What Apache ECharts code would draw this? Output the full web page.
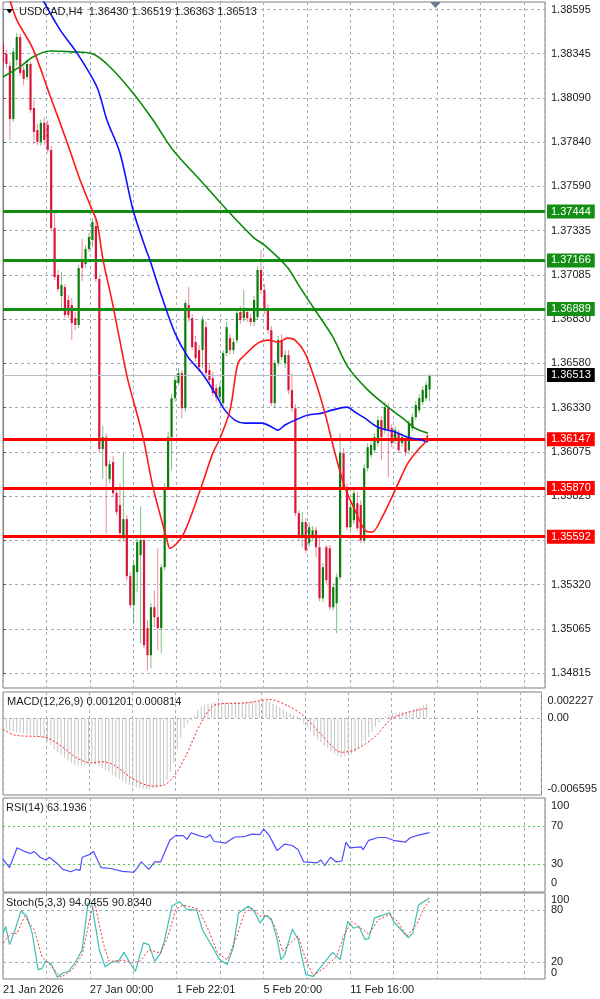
<!DOCTYPE html>
<html><head><meta charset="utf-8">
<script src="https://cdn.jsdelivr.net/npm/echarts@6/dist/echarts.min.js"></script>
<style>html,body{margin:0;padding:0;background:#fff}#c{width:600px;height:999px}</style>
</head><body><div id="c"></div>
<script>
// ---------------- DATA ----------------
const symbolName = 'USDCAD,H4';
const headerOHLC = ['1.36430', '1.36519', '1.36363', '1.36513'];

const opens = [1.38393,1.38342,1.38274,1.37972,1.38308,1.38439,1.38251,1.38211,1.38285,1.38034,
1.37909,1.37841,1.37949,1.37938,1.37795,1.37350,1.37083,1.36963,1.37014,1.36940,
1.36912,1.36837,1.36798,1.37168,1.37145,1.37231,1.37282,1.37362,1.37060,1.36091,
1.36159,1.35920,1.36017,1.35840,1.35772,1.35583,1.35692,1.35367,1.35202,1.35390,
1.35487,1.35572,1.35071,1.34917,1.35190,1.35133,1.35071,1.35418,1.35874,1.36159,
1.36381,1.36467,1.36524,1.36324,1.36912,1.36837,1.36701,1.36655,1.36655,1.36786,
1.36541,1.36495,1.36438,1.36387,1.36353,1.36638,1.36723,1.36655,1.36712,1.36872,
1.36837,1.36872,1.36837,1.36815,1.36843,1.37111,1.36997,1.36883,1.36769,1.36353,
1.36581,1.36712,1.36581,1.36627,1.36427,1.36324,1.35726,1.35589,1.35675,1.35555,
1.35589,1.35629,1.35532,1.35241,1.35532,1.35526,1.35190,1.35213,1.35361,1.36068,
1.35874,1.35646,1.35686,1.35783,1.35772,1.35572,1.35982,1.36057,1.36085,1.36125,
1.36256,1.36199,1.36324,1.36210,1.36142,1.36182,1.36125,1.36142,1.36085,1.36210,
1.36273,1.36313,1.36359,1.36381,1.36430];

const closes = [1.38297,1.38285,1.37972,1.38354,1.38439,1.38234,1.38200,1.38285,1.38023,1.37898,
1.37841,1.37949,1.37852,1.37795,1.37350,1.37071,1.37003,1.37026,1.36855,1.36855,
1.36809,1.36798,1.37122,1.37122,1.37231,1.37299,1.37385,1.37060,1.36091,1.36159,
1.35994,1.36005,1.35840,1.35732,1.35612,1.35692,1.35367,1.35202,1.35430,1.35561,
1.35572,1.34974,1.34917,1.35190,1.35133,1.35071,1.35418,1.35874,1.36159,1.36381,
1.36484,1.36524,1.36324,1.36923,1.36837,1.36672,1.36609,1.36558,1.36826,1.36524,
1.36484,1.36410,1.36387,1.36444,1.36638,1.36786,1.36655,1.36701,1.36866,1.36826,
1.36883,1.36837,1.36815,1.36940,1.37111,1.36997,1.36883,1.36769,1.36353,1.36581,
1.36712,1.36615,1.36627,1.36427,1.36324,1.35726,1.35589,1.35675,1.35515,1.35646,
1.35629,1.35532,1.35241,1.35418,1.35344,1.35190,1.35304,1.35361,1.36068,1.35874,
1.35646,1.35760,1.35840,1.35640,1.35572,1.35982,1.36102,1.36114,1.36159,1.36256,
1.36159,1.36330,1.36199,1.36125,1.36199,1.36085,1.36159,1.36074,1.36239,1.36273,
1.36342,1.36381,1.36427,1.36456,1.36513];

const highs = [1.38416,1.38365,1.38297,1.38376,1.38462,1.38456,1.38274,1.38308,1.38297,1.38080,
1.37943,1.37966,1.37983,1.37966,1.37818,1.37447,1.37111,1.37100,1.37031,1.36969,
1.36951,1.36872,1.37140,1.37288,1.37254,1.37322,1.37407,1.37407,1.37077,1.36222,
1.36182,1.36028,1.36051,1.35857,1.35897,1.36068,1.35715,1.35390,1.35447,1.35583,
1.35766,1.35595,1.35116,1.35213,1.35287,1.35526,1.35435,1.35897,1.36188,1.36404,
1.36507,1.36552,1.36541,1.36940,1.37014,1.36860,1.36735,1.36684,1.36849,1.36815,
1.36575,1.36530,1.36461,1.36467,1.36655,1.36815,1.36746,1.36723,1.36894,1.36906,
1.36997,1.36894,1.36860,1.36963,1.37134,1.37225,1.37031,1.36917,1.36792,1.36598,
1.36735,1.36746,1.36655,1.36655,1.36524,1.36347,1.35743,1.35732,1.35697,1.35675,
1.35652,1.35646,1.35601,1.35441,1.35544,1.35544,1.35327,1.35384,1.36182,1.36096,
1.35897,1.35783,1.35868,1.35846,1.35800,1.36005,1.36125,1.36136,1.36182,1.36279,
1.36279,1.36359,1.36353,1.36233,1.36222,1.36199,1.36182,1.36165,1.36256,1.36296,
1.36364,1.36404,1.36450,1.36478,1.36519];

const lows = [1.38274,1.38262,1.37852,1.37955,1.38274,1.38217,1.38166,1.38194,1.38006,1.37829,
1.37824,1.37818,1.37824,1.37778,1.37333,1.37054,1.36986,1.36883,1.36837,1.36837,
1.36712,1.36769,1.36780,1.37048,1.37122,1.37214,1.37242,1.37043,1.36074,1.35920,
1.35612,1.35897,1.35823,1.35715,1.35561,1.35566,1.35344,1.35184,1.35093,1.35276,
1.34985,1.34956,1.34831,1.34842,1.35076,1.34945,1.34928,1.35401,1.35857,1.35971,
1.36359,1.36450,1.36267,1.36302,1.36815,1.36655,1.36587,1.36530,1.36552,1.36507,
1.36461,1.36393,1.36359,1.36370,1.36336,1.36621,1.36632,1.36632,1.36695,1.36803,
1.36815,1.36815,1.36792,1.36792,1.36826,1.36974,1.36860,1.36746,1.36336,1.36324,
1.36564,1.36598,1.36552,1.36404,1.36302,1.35709,1.35572,1.35532,1.35498,1.35532,
1.35566,1.35475,1.35224,1.35219,1.35321,1.35173,1.35173,1.35042,1.35344,1.35857,
1.35629,1.35629,1.35663,1.35623,1.35555,1.35555,1.35965,1.36039,1.36068,1.36108,
1.36028,1.36176,1.35931,1.36102,1.36119,1.36068,1.36102,1.36051,1.36062,1.36193,
1.36256,1.36296,1.36342,1.36364,1.36363];

const xLabels = ['21 Jan 2026', '27 Jan 00:00', '1 Feb 22:01', '5 Feb 20:00', '11 Feb 16:00'];
const priceTickLabels = ['1.38595','1.38345','1.38090','1.37840','1.37590','1.37335','1.37085','1.36830',
  '1.36580','1.36330','1.36075','1.35825','1.35575','1.35320','1.35065','1.34815'];
const resistanceLevels = [1.37444, 1.37166, 1.36889];
const supportLevels = [1.36147, 1.35870, 1.35592];
const lastPrice = 1.36513;

// moving averages: [bar index, price]
const maFast = [[2.0,1.38650],[4.0,1.38536],[8.7,1.38371],[13.7,1.38103],[18.6,1.37841],[22.4,1.37624],
  [25.3,1.37482],[27.3,1.37385],[29.1,1.37168],[32.0,1.36906],[34.9,1.36615],[36.3,1.36484],[40.7,1.36159],
  [43.6,1.35874],[47.7,1.35572],[48.5,1.35526],[52.3,1.35601],[57.3,1.35857],[61.0,1.36068],[63.1,1.36153],
  [66.0,1.36313],[68.3,1.36581],[70.3,1.36627],[74.1,1.36695],[77.0,1.36712],[79.9,1.36701],[82.8,1.36723],
  [84.9,1.36712],[87.8,1.36638],[90.7,1.36484],[93.6,1.36296],[96.5,1.36068],[99.4,1.35874],[102.3,1.35743],
  [105.2,1.35629],[107.3,1.35618],[110.2,1.35703],[114.0,1.35857],[117.7,1.36011],[120.6,1.36085],
  [122.7,1.36131],[123.5,1.36171]];
const maMid = [[11.6,1.38650],[16.6,1.38479],[21.5,1.38348],[27.3,1.38154],[30.2,1.37966],[34.0,1.37778],
  [37.8,1.37453],[41.3,1.37242],[42.7,1.37168],[46.2,1.36957],[50.0,1.36752],[53.8,1.36615],[57.8,1.36524],
  [61.6,1.36410],[64.5,1.36313],[67.4,1.36256],[70.3,1.36239],[75.3,1.36239],[78.2,1.36216],[79.9,1.36199],
  [82.0,1.36228],[84.9,1.36256],[88.7,1.36285],[92.7,1.36296],[95.6,1.36313],[100.0,1.36330],[102.3,1.36302],
  [105.2,1.36267],[109.0,1.36216],[114.0,1.36188],[117.7,1.36159],[121.8,1.36142],[123.5,1.36131]];
const maSlow = [[0,1.38211],[4.9,1.38268],[8.7,1.38325],[13.7,1.38359],[20.3,1.38354],[26.2,1.38342],
  [31.1,1.38268],[37.8,1.38120],[43.6,1.37966],[49.4,1.37795],[57.3,1.37624],[65.1,1.37453],[72.7,1.37299],
  [76.7,1.37242],[82.6,1.37128],[86.3,1.37014],[91.3,1.36866],[95.9,1.36729],[100.3,1.36558],[106.1,1.36427],
  [111.9,1.36330],[116.9,1.36256],[119.8,1.36210],[123.5,1.36182]];

const macdTitle = 'MACD(12,26,9) 0.001201 0.000814';
const macdMain = [-0.00096,-0.00102,-0.00110,-0.00116,-0.00122,-0.00127,-0.00133,-0.00139,-0.00144,-0.00153,
-0.00158,-0.00164,-0.00173,-0.00195,-0.00232,-0.00266,-0.00294,-0.00314,-0.00337,-0.00362,
-0.00385,-0.00405,-0.00410,-0.00413,-0.00408,-0.00396,-0.00393,-0.00402,-0.00413,-0.00430,
-0.00447,-0.00464,-0.00484,-0.00504,-0.00524,-0.00541,-0.00558,-0.00574,-0.00589,-0.00597,
-0.00603,-0.00606,-0.00608,-0.00606,-0.00603,-0.00597,-0.00586,-0.00563,-0.00532,-0.00464,
-0.00385,-0.00266,-0.00167,-0.00091,-0.00045,-0.00017,0.00017,0.00068,0.00096,0.00113,
0.00125,0.00130,0.00136,0.00136,0.00136,0.00133,0.00133,0.00130,0.00130,0.00133,
0.00133,0.00136,0.00139,0.00142,0.00144,0.00147,0.00150,0.00144,0.00136,0.00122,
0.00108,0.00091,0.00074,0.00057,0.00040,0.00025,0.00011,-0.00017,-0.00045,-0.00085,
-0.00119,-0.00153,-0.00181,-0.00209,-0.00238,-0.00260,-0.00283,-0.00306,-0.00323,-0.00334,
-0.00331,-0.00323,-0.00311,-0.00289,-0.00266,-0.00238,-0.00204,-0.00164,-0.00119,-0.00074,
-0.00040,-0.00011,0.00011,0.00028,0.00040,0.00045,0.00048,0.00051,0.00057,0.00062,
0.00074,0.00085,0.00096,0.00108,0.001201];
const macdSignal = [[0,-0.00096],[3.5,-0.00147],[12.4,-0.00167],[16.9,-0.00238],[21.3,-0.00337],
  [25.8,-0.00385],[29.1,-0.00374],[32.4,-0.00402],[38.0,-0.00521],[43.5,-0.00583],[46.9,-0.00577],
  [50.2,-0.00492],[53.5,-0.00323],[58.0,-0.00040],[62.4,0.00116],[71.3,0.00130],[78.0,0.00158],
  [83.5,0.00102],[88.0,0.00017],[93.5,-0.00153],[99.1,-0.00294],[103.5,-0.00266],[109.1,-0.00153],
  [113.5,-0.00011],[118.0,0.00045],[122.4,0.00074],[124,0.000814]];
const macdLabelValues = [0.002227, 0, -0.006595];
const macdLabels = ['0.002227', '0.00', '-0.006595'];

const rsiTitle = 'RSI(14) 63.1936';
const rsiLine = [[0,35],[1.9,26],[4.1,47],[6.3,43],[8,41],[9.1,43],[10.8,37],[12.4,34],[13.5,37],[15.8,30],
  [17.4,24],[19.7,21.5],[21.3,24],[22.4,23],[23,37],[25.2,40],[26.3,43],[28.5,26],[31.3,25],[34.7,22],[38,21],
  [39.1,26],[40.2,32],[42.4,24],[44.1,32],[45.8,32],[48.5,55],[50.2,60],[52.4,60],[53.5,56],[54.7,63],
  [56.9,60],[59.1,58],[60.2,61],[61.3,54],[64.7,52],[67.4,58.5],[70.2,59],[72.4,61.5],[74.7,61],[75.8,67],
  [77.4,60],[79.7,44],[81.9,51],[84.1,49.5],[85.8,45],[87.4,32],[91.3,31],[92.4,34],[93.5,28],[95.2,37],
  [96.9,32],[98.5,33],[99.7,53],[100.8,47],[104.1,48],[104.7,45],[106.3,55],[109.1,58],[111.3,58],
  [113.5,55],[116.9,53],[118.5,58],[121.3,61],[124,63.19]];
const rsiLevels = [70, 30];
const rsiLabelValues = [100, 70, 30, 0];

const stochTitle = 'Stoch(5,3,3) 94.0455 90.8340';
const stochK = [[0,53],[0.8,61],[1.9,40],[3.5,57],[5.2,79],[6.9,73],[8.5,53],[10.2,11],[11.3,12],[12.4,21],
  [14.1,17],[15.8,2],[17.4,7],[19.1,9],[21.3,21],[23.0,34],[24.7,88],[25.8,88],[28.0,34],[29.7,14],[31.3,19],
  [33.5,20.5],[35.2,31],[36.9,18.6],[38.5,9],[40.8,42],[42.4,40],[44.1,20.5],[45.8,30],[46.9,44],[49.1,84.5],
  [51.3,90],[53.5,81],[56.3,80],[58.0,57],[60.2,42],[63.0,22.5],[65.2,17],[66.9,36],[68.5,77],[71.3,84.5],
  [73.0,79],[74.7,65],[76.3,74],[78.0,70],[79.7,46],[80.8,22.5],[81.9,28],[84.1,58],[85.8,46],[88.0,5],
  [90.2,3],[93.0,17],[95.8,31],[98.0,22.5],[100.2,67],[101.9,59],[103.5,61],[105.2,46],[106.3,47],[108.0,71],
  [110.2,74],[112.4,77],[113.5,67],[115.8,57],[117.8,48],[119.1,53],[120.8,86],[124,94.05]];
const stochD = [[0,42],[2.4,53],[4.1,53],[6.3,73],[9.1,57],[11.3,26],[13.5,17],[16.9,2],[20.2,11],[23.0,28],
  [25.8,81],[26.9,84.5],[29.1,42],[30.8,20.5],[34.7,22],[37.4,19],[39.7,20],[42.4,34],[45.8,30],[48.0,50],
  [50.2,81],[52.4,86],[56.9,81],[59.7,57],[62.4,30],[65.2,22.5],[68.0,50],[70.2,77],[72.4,82.5],[74.7,73],
  [76.9,74],[79.1,61],[81.3,32],[83.5,42],[85.8,50],[88.0,22.5],[90.2,4],[93.5,13],[96.9,26],[99.1,50],
  [101.3,67],[104.1,59],[106.3,52],[109.1,69],[112.4,75],[114.7,67],[117.4,50],[120.2,63],[122.4,82.5],[124,90.83]];
const stochLevels = [80, 20];
const stochLabelValues = [80, 20, 0];
const stochTopLabelValues = [100];

// ---------------- LAYOUT / STYLE ----------------
const FONT = "'Liberation Sans', Arial, sans-serif";
const TXT = '#1a1a1a';
const GRID_LEFT = 3, GRID_W = 542;
const BAR_PX = 3.44;
const X_MAX = GRID_W / BAR_PX;
const X_STEP = 43.4 / BAR_PX;
const GRID_DASH = { color: '#a3acb9', type: [3, 3], width: 1 };
const BORDER = '#808080';
const PRICE_MIN = 1.34730, PRICE_MAX = 1.38638;
const GREEN_LVL = '#138f13', RED_LVL = '#ff0000';

const candles = opens.map((o, i) => [i, o, closes[i], lows[i], highs[i]]);
const macdBars = macdMain.map((v, i) => [i, v]);

function renderCandle(params, api) {
  const i = api.value(0), o = api.value(1), c = api.value(2), l = api.value(3), h = api.value(4);
  const pO = api.coord([i, o]), pC = api.coord([i, c]), pL = api.coord([i, l]), pH = api.coord([i, h]);
  const bull = c >= o;
  const x = pO[0];
  const top = Math.min(pO[1], pC[1]), bot = Math.max(pO[1], pC[1]);
  return {
    type: 'group', children: [
      { type: 'line', shape: { x1: x, y1: pH[1], x2: x, y2: pL[1] },
        style: { stroke: bull ? 'rgba(0,128,0,0.5)' : 'rgba(220,20,60,0.5)', lineWidth: 1 } },
      { type: 'rect', shape: { x: x - 1.1, y: top, width: 2.2, height: Math.max(1, bot - top) },
        style: { fill: bull ? '#0a7d0a' : '#dc143c' } }
    ]
  };
}
function renderHist(params, api) {
  const i = api.value(0), v = api.value(1);
  const p0 = api.coord([i, 0]), p1 = api.coord([i, v]);
  return { type: 'line', shape: { x1: p0[0], y1: p0[1], x2: p1[0], y2: p1[1] },
    style: { stroke: '#c4c4c4', lineWidth: 1 } };
}

function xAxisFor(gridIndex, showLabels, showSplit) {
  return {
    type: 'value', gridIndex, min: 0, max: X_MAX, interval: X_STEP,
    axisLine: { show: false }, axisTick: { show: false },
    splitLine: { show: showSplit, lineStyle: GRID_DASH },
    axisLabel: {
      show: showLabels, align: 'left', margin: 5, color: TXT, fontSize: 11, fontFamily: FONT,
      formatter: v => { const k = Math.round(v / X_STEP); return (k % 2 === 0 && xLabels[k / 2]) ? xLabels[k / 2] : ''; }
    }
  };
}
function subYAxis(gridIndex, min, max, values, labels, padTop, padBot) {
  const base = { fontSize: 11, fontFamily: FONT, color: TXT, lineHeight: 8 };
  return {
    type: 'value', gridIndex, position: 'right', min, max,
    axisLine: { show: false }, axisTick: { show: false }, splitLine: { show: false },
    axisLabel: {
      show: true, customValues: values, margin: 6, color: TXT, fontSize: 11, fontFamily: FONT, lineHeight: 8,
      showMinLabel: true, showMaxLabel: true, hideOverlap: false,
      formatter: v => {
        let k = 0, best = Infinity;
        values.forEach((u, j) => { if (Math.abs(u - v) < best) { best = Math.abs(u - v); k = j; } });
        const u = values[k];
        const s = u === max ? 't' : (u === min ? 'b' : 'm');
        return '{' + s + '|' + labels[k] + '}';
      },
      rich: {
        t: Object.assign({ padding: [padTop, 0, 0, 0] }, base),
        m: Object.assign({}, base),
        b: Object.assign({ padding: [0, 0, padBot, 0] }, base)
      }
    }
  };
}
function lvlItem(v, color, width, type, withLabel, labelBg) {
  return {
    yAxis: v, lineStyle: { color, width, type },
    label: withLabel ? {
      show: true, position: 'end', distance: 2, formatter: v.toFixed(5),
      backgroundColor: labelBg, color: '#ffffff', padding: [2, 4, 1, 4], fontSize: 11, fontFamily: FONT
    } : { show: false }
  };
}
const titleStyle = { fontSize: 11, fontWeight: 'normal', color: TXT, fontFamily: FONT };

const option = {
  animation: false,
  backgroundColor: '#ffffff',
  title: [
    { text: symbolName + '  ' + headerOHLC.join(' '), left: 19, top: 6, padding: 0, textStyle: titleStyle },
    { text: macdTitle, left: 7, top: 696, padding: 0, textStyle: titleStyle },
    { text: rsiTitle, left: 6, top: 802, padding: 0, textStyle: titleStyle },
    { text: stochTitle, left: 6, top: 897, padding: 0, textStyle: titleStyle }
  ],
  grid: [
    { left: GRID_LEFT, width: GRID_W, top: 2, height: 686, show: true, borderColor: BORDER, borderWidth: 1 },
    { left: GRID_LEFT, width: GRID_W, top: 9.5, height: 663.5 },
    { left: GRID_LEFT, width: GRID_W, top: 692, height: 103, show: true, borderColor: BORDER, borderWidth: 1 },
    { left: GRID_LEFT, width: GRID_W, top: 798, height: 94, show: true, borderColor: BORDER, borderWidth: 1 },
    { left: GRID_LEFT, width: GRID_W, top: 893, height: 86, show: true, borderColor: BORDER, borderWidth: 1 }
  ],
  xAxis: [
    xAxisFor(0, false, true),
    Object.assign(xAxisFor(1, false, false), { show: false }),
    xAxisFor(2, false, true),
    xAxisFor(3, false, true),
    xAxisFor(4, true, true)
  ],
  yAxis: [
    { type: 'value', gridIndex: 0, position: 'right', min: PRICE_MIN, max: PRICE_MAX,
      axisLine: { show: false }, axisTick: { show: false }, axisLabel: { show: false }, splitLine: { show: false } },
    { type: 'value', gridIndex: 1, position: 'right', min: 0, max: 15, interval: 1,
      axisLine: { show: true, lineStyle: { color: BORDER } },
      axisTick: { show: true, length: 3, lineStyle: { color: '#555' } },
      splitLine: { show: true, lineStyle: GRID_DASH },
      axisLabel: { margin: 6, color: TXT, fontSize: 11, fontFamily: FONT, showMinLabel: true, showMaxLabel: true,
        formatter: v => priceTickLabels[15 - Math.round(v)] || '' } },
    subYAxis(2, -0.006595, 0.002227, macdLabelValues, macdLabels, 18, 12),
    subYAxis(3, 0, 100, rsiLabelValues, rsiLabelValues.map(String), 16, 18),
    subYAxis(4, 0, 100, stochLabelValues, stochLabelValues.map(String), 14, 12),
    subYAxis(4, 0, 100, stochTopLabelValues, stochTopLabelValues.map(String), 13, 12)
  ],
  series: [
    { type: 'line', xAxisIndex: 0, yAxisIndex: 0, data: [], z: 1, silent: true,
      markLine: { symbol: 'none', silent: true, animation: false, precision: 5,
        data: [lvlItem(lastPrice, '#b4bcc8', 1, 'solid', true, '#000000')] } },
    { type: 'custom', xAxisIndex: 0, yAxisIndex: 0, data: candles, renderItem: renderCandle, z: 2,
      encode: { x: 0, y: [1, 2, 3, 4] }, clip: true, silent: true },
    { type: 'line', xAxisIndex: 0, yAxisIndex: 0, data: [], z: 3, silent: true,
      markLine: { symbol: 'none', silent: true, animation: false, precision: 5,
        data: resistanceLevels.map(v => lvlItem(v, GREEN_LVL, 3, 'solid', true, GREEN_LVL))
          .concat(supportLevels.map(v => lvlItem(v, RED_LVL, 3, 'solid', true, RED_LVL))) } },
    { type: 'line', xAxisIndex: 0, yAxisIndex: 0, data: maSlow, showSymbol: false, smooth: 0.3, z: 5,
      lineStyle: { color: '#0a8a0a', width: 1.6 }, silent: true },
    { type: 'line', xAxisIndex: 0, yAxisIndex: 0, data: maMid, showSymbol: false, smooth: 0.3, z: 5,
      lineStyle: { color: '#1010ff', width: 1.6 }, silent: true },
    { type: 'line', xAxisIndex: 0, yAxisIndex: 0, data: maFast, showSymbol: false, smooth: 0.3, z: 5,
      lineStyle: { color: '#ff1a1a', width: 1.6 }, silent: true },

    { type: 'custom', xAxisIndex: 2, yAxisIndex: 2, data: macdBars, renderItem: renderHist, z: 2,
      encode: { x: 0, y: 1 }, silent: true,
      markLine: { symbol: 'none', silent: true, animation: false, precision: 6, label: { show: false },
        data: [{ yAxis: 0, lineStyle: { color: '#a3acb9', type: [3, 3], width: 1 } }] } },
    { type: 'line', xAxisIndex: 2, yAxisIndex: 2, data: macdSignal, showSymbol: false, smooth: 0.3, z: 3,
      lineStyle: { color: '#ff2020', width: 1, type: [2, 2] }, silent: true },

    { type: 'line', xAxisIndex: 3, yAxisIndex: 3, data: rsiLine, showSymbol: false, z: 3,
      lineStyle: { color: '#4d4dff', width: 1.2 }, silent: true,
      markLine: { symbol: 'none', silent: true, animation: false, label: { show: false },
        data: rsiLevels.map(v => ({ yAxis: v, lineStyle: { color: '#4fc94f', type: [2, 3], width: 1 } })) } },

    { type: 'line', xAxisIndex: 4, yAxisIndex: 4, data: stochK, showSymbol: false, z: 3,
      lineStyle: { color: '#3cbfb4', width: 1.2 }, silent: true,
      markLine: { symbol: 'none', silent: true, animation: false, label: { show: false },
        data: stochLevels.map(v => ({ yAxis: v, lineStyle: { color: '#a3acb9', type: [3, 3], width: 1 } })) } },
    { type: 'line', xAxisIndex: 4, yAxisIndex: 4, data: stochD, showSymbol: false, z: 4,
      lineStyle: { color: '#ff3030', width: 1, type: [2, 2] }, silent: true }
  ],
  graphic: [
    { type: 'polygon', z: 10, shape: { points: [[6, 9], [13, 9], [9.5, 13.5]] }, style: { fill: '#000' } },
    { type: 'polygon', z: 10, shape: { points: [[430, 2], [441, 2], [435.5, 8]] }, style: { fill: '#6b7b8c' } }
  ]
};

const chart = echarts.init(document.getElementById('c'), null, { renderer: 'canvas' });
chart.setOption(option);
</script>
</body></html>
